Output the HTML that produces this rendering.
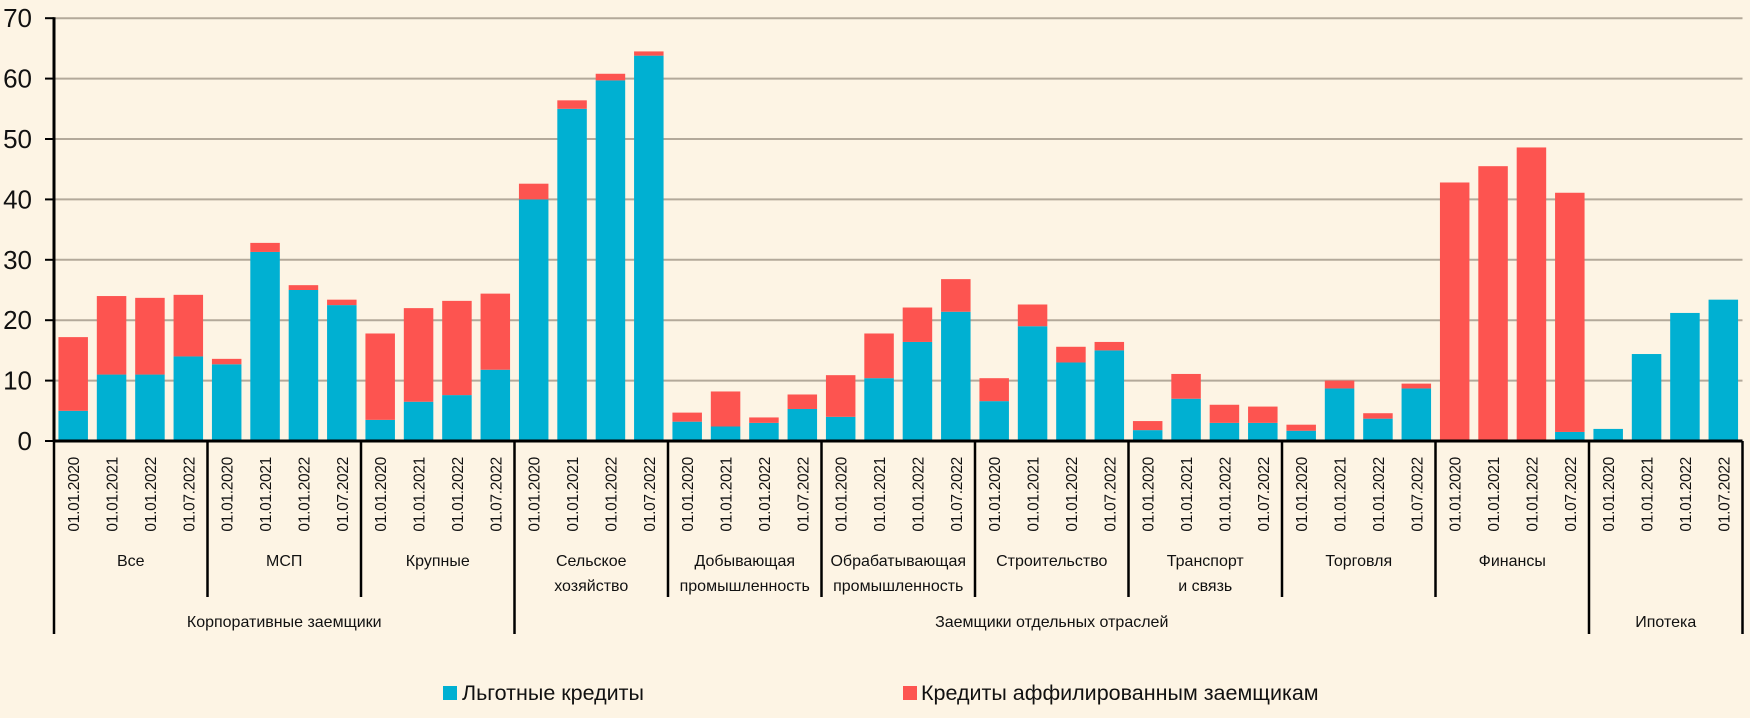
<!DOCTYPE html>
<html><head><meta charset="utf-8"><style>
html,body{margin:0;padding:0;background:#fdf4e4;}
svg{display:block;font-family:"Liberation Sans",sans-serif;}
</style></head><body>
<svg id="chart" width="1750" height="718" viewBox="0 0 1750 718" xmlns="http://www.w3.org/2000/svg">
<rect width="1750" height="718" fill="#fdf4e4"/>
<g id="grid"></g><g id="bars"></g><g id="axes"></g><g id="labels"></g>
<g>
<rect x="443" y="686" width="14" height="14" fill="#00b0d2"/>
<text x="462" y="700" font-size="21.5" fill="#111">Льготные кредиты</text>
<rect x="903" y="686" width="14" height="14" fill="#fd5450"/>
<text x="921" y="700" font-size="21.5" fill="#111">Кредиты аффилированным заемщикам</text>
</g>
</svg>
<script>
const groups = [["Все"],["МСП"],["Крупные"],["Сельское","хозяйство"],["Добывающая","промышленность"],["Обрабатывающая","промышленность"],["Строительство"],["Транспорт","и связь"],["Торговля"],["Финансы"],[]];
const dates = ["01.01.2020","01.01.2021","01.01.2022","01.07.2022"];
const preferential = [5,11,11,14, 12.7,31.3,25,22.5, 3.5,6.5,7.6,11.8, 40,55,59.7,63.8, 3.2,2.4,3,5.3, 4,10.4,16.4,21.4, 6.6,19,13,15, 1.8,7,3,3, 1.7,8.7,3.7,8.7, 0,0.2,0,1.5, 2,14.4,21.2,23.4];
const affiliated = [12.2,13,12.7,10.2, 0.9,1.5,0.8,0.9, 14.3,15.5,15.6,12.6, 2.6,1.4,1.1,0.7, 1.5,5.8,0.9,2.4, 6.9,7.4,5.7,5.4, 3.8,3.6,2.6,1.4, 1.5,4.1,3,2.7, 1,1.3,0.9,0.8, 42.8,45.3,48.6,39.6, 0,0,0,0];
const yTicks = [0,10,20,30,40,50,60,70];
const superGroups = [["Корпоративные заемщики",0,3],["Заемщики отдельных отраслей",3,10],["Ипотека",10,11]];

const NS="http://www.w3.org/2000/svg";
const X0=54, GW=153.5, SLOT=GW/4, BW=29.5, Y0=441, PX=6.04;
const y = v => Y0 - v*PX;
const xg = i => X0 + i*GW;
function mk(tag, attrs, parent){const e=document.createElementNS(NS,tag);for(const k in attrs)e.setAttribute(k,attrs[k]);parent.appendChild(e);return e;}
const grid=document.getElementById('grid'), bars=document.getElementById('bars'), axes=document.getElementById('axes'), labels=document.getElementById('labels');
const XE = xg(groups.length);
yTicks.forEach(t=>{
  if(t>0){const l=mk('line',{x1:X0,x2:XE,y1:y(t),y2:y(t),stroke:'#b3a99a','stroke-width':2},grid);
  
  }
  const tk=mk('line',{x1:X0-9,x2:X0,y1:y(t),y2:y(t),stroke:'#000','stroke-width':2},axes);
  
  
  const tx=mk('text',{x:32,y:y(t)+9,'font-size':26,'text-anchor':'end',fill:'#111'},axes);
  tx.textContent=t;
  
  
});
for(let i=0;i<preferential.length;i++){
  const g=Math.floor(i/4), k=i%4;
  const bx=xg(g)+k*SLOT+(SLOT-BW)/2;
  const b=preferential[i], a=affiliated[i];
  if(b>0){const r=mk('rect',{x:bx,y:y(b),width:BW,height:Y0-y(b),fill:'#00b0d2'},bars);
  
  }
  if(a>0){const r=mk('rect',{x:bx,y:y(a+b),width:BW,height:y(b)-y(a+b),fill:'#fd5450'},bars);
  
  }
  const cx=bx+BW/2+6;
  const t=mk('text',{x:cx,y:457,'font-size':15.5,'text-anchor':'end',fill:'#111',transform:`rotate(-90 ${cx} 457)`,'letter-spacing':'-0.3'},labels);
  t.textContent=dates[k];
  
  
}
const ya=mk('line',{x1:X0,x2:X0,y1:y(70)-1,y2:Y0,stroke:'#000','stroke-width':3},axes);


const xa=mk('line',{x1:X0,x2:XE,y1:Y0,y2:Y0,stroke:'#000','stroke-width':3},axes);


const superB=new Set(); superGroups.forEach(s=>{superB.add(s[1]);superB.add(s[2]);});
for(let g=0;g<=groups.length;g++){
  const l=mk('line',{x1:xg(g),x2:xg(g),y1:Y0,y2:superB.has(g)?634:597,stroke:'#000','stroke-width':2.5},axes);
  
  
}
groups.forEach((lines,g)=>{
  lines.forEach((s,j)=>{
    const t=mk('text',{x:xg(g)+GW/2,y:566+j*25,'font-size':16,'text-anchor':'middle',fill:'#111'},labels);
    t.textContent=s;
    
    
  });
});
superGroups.forEach(s=>{
  const t=mk('text',{x:(xg(s[1])+xg(s[2]))/2,y:627,'font-size':16,'text-anchor':'middle',fill:'#111'},labels);
  t.textContent=s[0];
  
  
});
</script>
</body></html>
